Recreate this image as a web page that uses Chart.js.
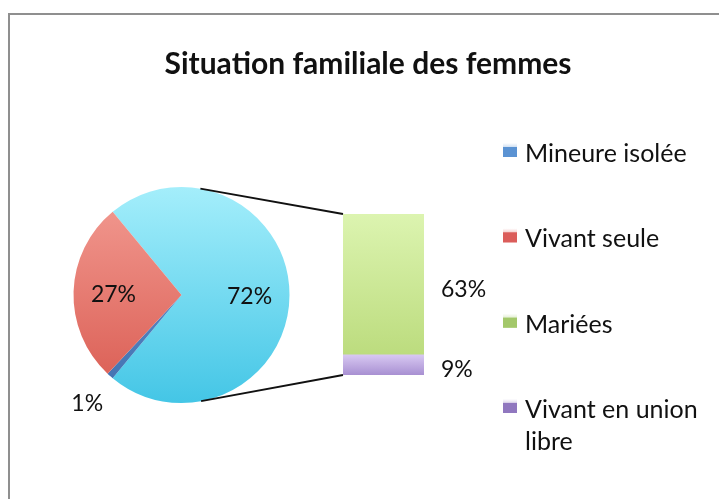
<!DOCTYPE html>
<html>
<head>
<meta charset="utf-8">
<script src="https://cdn.jsdelivr.net/npm/chart.js@4/dist/chart.umd.min.js"></script>
<style>
    html, body { margin: 0; padding: 0; background: #fff; overflow: hidden; }
    #wrap { position: relative; width: 719px; height: 499px; }
    #frame { position: absolute; left: 8px; top: 13px; width: 740px; height: 520px;
             border-left: 2px solid #8f8f8f; border-top: 2px solid #8f8f8f; }
    canvas { position: absolute; left: 0; top: 0; }
</style>
</head>
<body>
<div id="wrap">
    <div id="frame"></div>
    <canvas id="pieChart" width="719" height="499"></canvas>
    <canvas id="barChart" width="719" height="499"></canvas>
</div>
<script>
// values (percent)
const chartTitle = 'Situation familiale des femmes';
const pieLabels = ['Autre', 'Mineure isolée', 'Vivant seule'];
const pieValues = [72, 1, 27];
const barLabels = ['Vivant en union libre', 'Mariées'];
const barValues = [9, 63];
const legendLabels = ['Mineure isolée', 'Vivant seule', 'Mariées', ['Vivant en union', 'libre']];

const pieColors = [['#a4eefb', '#44c6e6'], ['#6f9bd6', '#3f6fae'], ['#f39c93', '#d95a50']];
const barColors = [['#d8c8f2', '#a890d2'], ['#dcf4b0', '#bcdc7e']];
const legendColors = ['#5b93d3', '#db5d5a', '#a3c86a', '#9077bf'];
const FONT = 'Lato, "Open Sans", sans-serif';

function vGradient(ctx, top, bottom, pair) {
    var g = ctx.createLinearGradient(0, top, 0, bottom);
    g.addColorStop(0, pair[0]);
    g.addColorStop(1, pair[1]);
    return g;
}

// title, legend and pie labels
const pieDecor = {
    id: 'pieDecor',
    afterDraw: function(chart) {
        var ctx = chart.ctx;
        ctx.save();
        ctx.fillStyle = '#111';
        ctx.font = 'bold 30px ' + FONT;
        ctx.textAlign = 'center';
        ctx.textBaseline = 'alphabetic';
        ctx.fillText(chartTitle, 368, 74);

        // legend
        ctx.font = '25px ' + FONT;
        ctx.textAlign = 'left';
        legendLabels.forEach(function(lbl, i) {
            var base = 162 + i * 85.3;
            ctx.fillStyle = vGradient(ctx, base - 19, base - 5, ['#ffffff', legendColors[i]]);
            ctx.fillRect(503, base - 19, 14, 14);
            ctx.fillStyle = legendColors[i];
            ctx.fillRect(503, base - 15, 14, 10);
            ctx.fillStyle = '#111';
            var lines = Array.isArray(lbl) ? lbl : [lbl];
            lines.forEach(function(t, j) {
                ctx.fillText(t, 525, base + j * 32);
            });
        });

        // data labels
        var meta = chart.getDatasetMeta(0);
        var total = pieValues.reduce(function(a, b) { return a + b; }, 0);
        ctx.font = '23px ' + FONT;
        ctx.textAlign = 'center';
        ctx.textBaseline = 'middle';
        meta.data.forEach(function(arc, i) {
            var mid = (arc.startAngle + arc.endAngle) / 2;
            var share = pieValues[i] / total;
            var r = share < 0.05 ? arc.outerRadius * 1.32 : arc.outerRadius * 0.63;
            ctx.fillText(pieValues[i] + '%', arc.x + Math.cos(mid) * r, arc.y + Math.sin(mid) * r + 2);
        });
        ctx.restore();
    }
};

const pieChart = new Chart(document.getElementById('pieChart'), {
    type: 'pie',
    data: {
        labels: pieLabels,
        datasets: [{
            data: pieValues,
            backgroundColor: function(c) {
                var a = c.chart.chartArea;
                if (!a) return pieColors[c.dataIndex][1];
                return vGradient(c.chart.ctx, a.top, a.bottom, pieColors[c.dataIndex]);
            },
            borderWidth: 0,
            hoverOffset: 0
        }]
    },
    options: {
        responsive: false,
        animation: false,
        rotation: 90 - pieValues[0] * 3.6 / 2,
        layout: { padding: { left: 73.5, top: 187, right: 719 - 289.5, bottom: 499 - 403 } },
        plugins: {
            legend: { display: false },
            tooltip: { enabled: false }
        }
    },
    plugins: [pieDecor]
});

// connector lines + bar labels
const barDecor = {
    id: 'barDecor',
    afterDatasetsDraw: function(chart) {
        var ctx = chart.ctx;
        var arc = pieChart.getDatasetMeta(0).data[0];
        var topBar = chart.getDatasetMeta(1).data[0];
        var botBar = chart.getDatasetMeta(0).data[0];
        var left = topBar.x - topBar.width / 2;
        var right = topBar.x + topBar.width / 2;
        var corners = [[left, topBar.y, -1], [left, botBar.base, 1]];

        ctx.save();
        ctx.strokeStyle = '#111';
        ctx.lineWidth = 1.8;
        corners.forEach(function(p) {
            var dx = p[0] - arc.x, dy = p[1] - arc.y;
            var d = Math.sqrt(dx * dx + dy * dy);
            var ang = Math.atan2(dy, dx) + p[2] * Math.acos(arc.outerRadius / d);
            ctx.beginPath();
            ctx.moveTo(arc.x + Math.cos(ang) * arc.outerRadius, arc.y + Math.sin(ang) * arc.outerRadius);
            ctx.lineTo(p[0], p[1]);
            ctx.stroke();
        });

        ctx.fillStyle = '#111';
        ctx.font = '23px ' + FONT;
        ctx.textAlign = 'left';
        ctx.textBaseline = 'middle';
        [botBar, topBar].forEach(function(el, i) {
            ctx.fillText(barValues[i] + '%', right + 17, (el.y + el.base) / 2 + 5);
        });
        ctx.restore();
    }
};

const barChart = new Chart(document.getElementById('barChart'), {
    type: 'bar',
    data: {
        labels: ['Autre'],
        datasets: barLabels.map(function(lbl, i) {
            return {
                label: lbl,
                data: [barValues[i]],
                backgroundColor: function(c) {
                    var a = c.chart.chartArea;
                    if (!a) return barColors[i][1];
                    var y0 = c.chart.scales.y.getPixelForValue(i === 0 ? barValues[0] : barValues[0] + barValues[1]);
                    var y1 = c.chart.scales.y.getPixelForValue(i === 0 ? 0 : barValues[0]);
                    return vGradient(c.chart.ctx, y0, y1, barColors[i]);
                },
                borderWidth: 0,
                barPercentage: 1,
                categoryPercentage: 1
            };
        })
    },
    options: {
        responsive: false,
        animation: false,
        layout: { padding: { left: 343, right: 719 - 424, top: 214, bottom: 499 - 375 } },
        scales: {
            x: { display: false, stacked: true },
            y: { display: false, stacked: true, min: 0, max: barValues.reduce(function(a, b) { return a + b; }, 0) }
        },
        plugins: {
            legend: { display: false },
            tooltip: { enabled: false }
        }
    },
    plugins: [barDecor]
});
</script>
</body>
</html>
